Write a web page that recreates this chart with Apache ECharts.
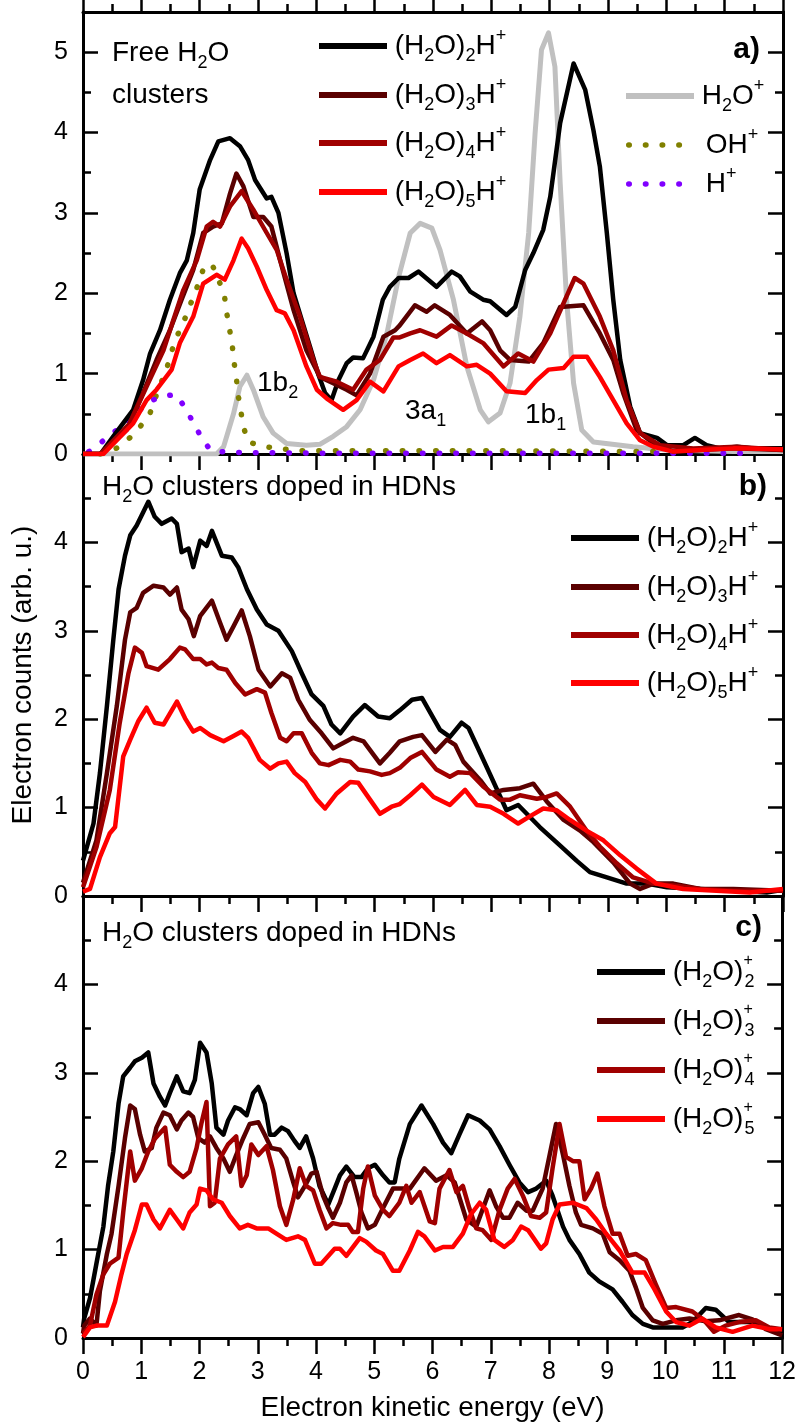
<!DOCTYPE html>
<html>
<head>
<meta charset="utf-8">
<script src="https://cdn.jsdelivr.net/npm/echarts@6/dist/echarts.min.js"></script>
<style>
  html, body { margin: 0; padding: 0; background: #fff; }
  #chart { width: 799px; height: 1425px; }
</style>
</head>
<body>
<div id="chart"></div>
<script>
// ---- data: [energy (eV), counts] ----
// panel a) free clusters
const aP2 = [[0,0],[0.3,0],[0.52,0.22],[0.86,0.55],[1.03,0.92],[1.15,1.25],[1.32,1.54],[1.49,1.92],[1.66,2.25],[1.78,2.41],[1.89,2.75],[2.0,3.29],[2.18,3.66],[2.32,3.89],[2.52,3.93],[2.69,3.83],[2.83,3.66],[2.95,3.41],[3.15,3.18],[3.23,3.2],[3.35,3.0],[3.49,2.5],[3.61,2.0],[3.75,1.67],[3.89,1.34],[4.03,1.0],[4.15,0.76],[4.26,0.67],[4.38,0.92],[4.52,1.13],[4.63,1.2],[4.8,1.19],[4.98,1.46],[5.14,1.92],[5.26,2.08],[5.41,2.19],[5.58,2.19],[5.75,2.27],[6.06,2.08],[6.32,2.27],[6.46,2.21],[6.64,2.02],[6.86,1.92],[6.98,1.9],[7.26,1.73],[7.41,1.83],[7.58,2.29],[7.72,2.5],[7.89,2.79],[8.01,3.2],[8.18,4.12],[8.41,4.86],[8.61,4.53],[8.75,4.03],[8.86,3.58],[8.98,2.75],[9.09,1.92],[9.21,1.17],[9.38,0.59],[9.55,0.26],[9.84,0.2],[10.01,0.11],[10.29,0.11],[10.49,0.2],[10.69,0.11],[10.92,0.07],[11.21,0.09],[11.49,0.07],[12,0.07]];
const aP3 = [[0,0],[0.3,0],[0.75,0.3],[1.03,0.76],[1.26,1.17],[1.49,1.54],[1.69,1.92],[1.89,2.29],[2.06,2.75],[2.23,2.83],[2.38,2.87],[2.52,3.24],[2.63,3.49],[2.75,3.33],[2.92,2.95],[3.09,2.95],[3.23,2.83],[3.38,2.41],[3.61,1.79],[3.83,1.29],[4.06,0.96],[4.29,0.88],[4.52,0.8],[4.69,0.73],[4.92,1.0],[5.15,1.46],[5.35,1.54],[5.43,1.6],[5.69,1.85],[5.89,1.77],[6.03,1.85],[6.29,1.73],[6.58,1.5],[6.84,1.65],[6.98,1.54],[7.15,1.29],[7.32,1.17],[7.64,1.15],[7.89,1.38],[8.18,1.83],[8.58,1.85],[8.86,1.5],[9.09,1.17],[9.26,0.76],[9.49,0.3],[9.78,0.13],[10.12,0.03],[10.58,0.05],[11.15,0.07],[12,0.05]];
const aP4 = [[0,0],[0.3,0],[0.8,0.38],[1.09,0.84],[1.38,1.29],[1.55,1.67],[1.72,2.04],[1.95,2.41],[2.12,2.83],[2.23,2.89],[2.35,2.83],[2.52,3.08],[2.72,3.27],[2.92,3.04],[3.15,2.75],[3.32,2.54],[3.49,2.17],[3.72,1.71],[3.95,1.17],[4.06,0.96],[4.35,0.9],[4.63,0.8],[4.86,1.05],[5.09,1.17],[5.32,1.45],[5.43,1.45],[5.61,1.5],[5.78,1.54],[6.06,1.46],[6.32,1.6],[6.58,1.5],[6.86,1.38],[7.21,1.09],[7.46,1.25],[7.72,1.15],[8.01,1.5],[8.24,1.88],[8.43,2.19],[8.58,2.12],[8.86,1.71],[9.09,1.29],[9.32,0.67],[9.55,0.26],[9.89,0.11],[10.46,0.07],[11.21,0.09],[12,0.05]];
const aP5 = [[0,0],[0.35,0],[0.86,0.38],[1.09,0.67],[1.26,0.8],[1.52,1.05],[1.66,1.38],[1.89,1.71],[2.06,2.12],[2.29,2.23],[2.43,2.17],[2.58,2.41],[2.72,2.68],[2.83,2.56],[2.98,2.33],[3.15,2.04],[3.32,1.79],[3.46,1.75],[3.61,1.54],[3.83,1.09],[4.01,0.8],[4.18,0.69],[4.46,0.55],[4.69,0.67],[4.92,0.9],[5.15,0.78],[5.41,1.09],[5.61,1.17],[5.83,1.25],[6.06,1.13],[6.29,1.23],[6.58,1.09],[6.75,1.11],[6.98,1.0],[7.26,0.78],[7.58,0.76],[7.78,0.92],[7.98,1.05],[8.24,1.07],[8.41,1.21],[8.64,1.21],[8.86,0.96],[9.09,0.67],[9.32,0.38],[9.55,0.17],[9.78,0.09],[10.12,0.03],[10.58,0.05],[11.15,0.07],[12,0.06]];
const aH2O = [[0,0],[2.29,0],[2.41,0.09],[2.58,0.5],[2.69,0.84],[2.81,0.98],[2.92,0.8],[3.09,0.46],[3.26,0.26],[3.49,0.13],[3.83,0.11],[4.06,0.12],[4.29,0.22],[4.52,0.34],[4.75,0.55],[4.98,0.92],[5.21,1.5],[5.41,2.2],[5.61,2.75],[5.78,2.87],[5.98,2.81],[6.12,2.54],[6.35,1.92],[6.58,1.09],[6.81,0.55],[6.95,0.4],[7.15,0.51],[7.32,0.88],[7.49,1.71],[7.64,2.75],[7.75,3.99],[7.86,5.03],[7.98,5.24],[8.09,4.82],[8.18,3.37],[8.29,1.92],[8.41,0.88],[8.55,0.3],[8.75,0.15],[9.43,0.09],[10,0.05],[11.15,0.03],[12,0.03]];
const aOH = [[0.3,0],[0.6,0.08],[0.8,0.2],[0.98,0.34],[1.15,0.51],[1.29,0.8],[1.43,1.05],[1.58,1.42],[1.72,1.63],[1.81,1.81],[1.92,2.0],[2.0,2.17],[2.09,2.36],[2.23,2.33],[2.35,2.12],[2.43,1.94],[2.47,1.73],[2.52,1.52],[2.56,1.34],[2.59,1.14],[2.63,0.94],[2.66,0.73],[2.75,0.34],[2.83,0.15],[3.12,0.09],[3.38,0.07],[3.66,0.04],[5,0.04],[7,0.04],[9.9,0.03]];
const aH = [[0.1,0.03],[0.23,0.09],[0.43,0.22],[0.66,0.34],[0.9,0.5],[1.15,0.66],[1.38,0.72],[1.59,0.74],[1.75,0.58],[1.89,0.39],[2.02,0.22],[2.18,0.05],[2.46,0.02],[4,0.01],[8,0.01],[11.5,0.01]];

// panel b) protonated clusters from HDNs
const bP2 = [[0,0.4],[0.18,0.82],[0.29,1.39],[0.41,2.15],[0.52,2.9],[0.61,3.47],[0.72,3.85],[0.81,4.08],[0.92,4.19],[1.12,4.46],[1.23,4.29],[1.35,4.21],[1.52,4.27],[1.61,4.21],[1.69,3.89],[1.81,3.93],[1.89,3.72],[2.01,4.02],[2.12,3.96],[2.21,4.13],[2.38,3.85],[2.55,3.83],[2.66,3.72],[2.81,3.47],[2.98,3.24],[3.15,3.07],[3.35,3.0],[3.58,2.77],[3.75,2.52],[3.92,2.28],[4.12,2.15],[4.26,1.94],[4.41,1.84],[4.63,2.03],[4.83,2.16],[5.06,2.03],[5.26,2.01],[5.43,2.1],[5.64,2.22],[5.81,2.24],[6.12,1.88],[6.29,1.8],[6.49,1.96],[6.61,1.9],[6.92,1.46],[7.26,0.97],[7.46,1.03],[7.83,0.78],[8.18,0.57],[8.46,0.4],[8.69,0.27],[8.98,0.21],[9.32,0.14],[9.66,0.14],[10.01,0.1],[10.58,0.08],[11.15,0.06],[11.72,0.04],[12,0.07]];
const bP3 = [[0,0.15],[0.23,0.63],[0.41,1.39],[0.58,2.15],[0.72,2.9],[0.81,3.21],[0.92,3.26],[1.03,3.43],[1.21,3.51],[1.38,3.49],[1.49,3.41],[1.61,3.49],[1.69,3.24],[1.81,3.13],[1.9,2.94],[2.01,3.17],[2.21,3.34],[2.35,3.09],[2.46,2.9],[2.58,3.05],[2.72,3.23],[2.86,2.94],[3.01,2.56],[3.21,2.37],[3.41,2.52],[3.55,2.47],[3.69,2.22],[3.89,1.99],[4.09,1.84],[4.29,1.67],[4.46,1.73],[4.63,1.79],[4.81,1.75],[5.09,1.5],[5.26,1.62],[5.43,1.75],[5.66,1.8],[5.81,1.82],[6.04,1.63],[6.24,1.77],[6.38,1.71],[6.52,1.52],[6.81,1.31],[6.98,1.16],[7.21,1.2],[7.49,1.22],[7.72,1.27],[7.95,1.07],[8.24,0.86],[8.52,0.74],[8.75,0.61],[9.09,0.38],[9.38,0.14],[9.55,0.08],[9.78,0.14],[10.12,0.14],[10.58,0.08],[11.15,0.08],[12,0.06]];
const bP4 = [[0,0.1],[0.23,0.55],[0.46,1.2],[0.63,1.96],[0.78,2.52],[0.89,2.81],[1.01,2.75],[1.09,2.6],[1.29,2.56],[1.49,2.68],[1.66,2.81],[1.75,2.79],[1.89,2.68],[2.01,2.68],[2.12,2.62],[2.21,2.64],[2.32,2.58],[2.46,2.56],[2.61,2.41],[2.78,2.28],[2.98,2.34],[3.12,2.3],[3.23,2.07],[3.38,1.79],[3.49,1.75],[3.61,1.84],[3.75,1.84],[3.92,1.62],[4.06,1.5],[4.21,1.48],[4.41,1.54],[4.58,1.52],[4.72,1.43],[4.92,1.41],[5.12,1.37],[5.26,1.39],[5.43,1.45],[5.61,1.56],[5.81,1.63],[6.06,1.43],[6.29,1.35],[6.43,1.4],[6.64,1.39],[6.86,1.24],[7.15,1.09],[7.32,1.09],[7.49,1.14],[7.78,1.1],[7.95,1.12],[8.12,1.16],[8.35,1.01],[8.63,0.74],[8.86,0.56],[9.15,0.37],[9.43,0.21],[9.78,0.14],[10.12,0.12],[10.58,0.08],[11.15,0.06],[12,0.06]];
const bP5 = [[0,0.05],[0.12,0.08],[0.29,0.44],[0.46,0.71],[0.55,0.78],[0.69,1.58],[0.81,1.77],[0.95,1.98],[1.09,2.13],[1.23,1.96],[1.38,1.94],[1.61,2.2],[1.75,2.01],[1.89,1.86],[2.01,1.9],[2.18,1.82],[2.41,1.75],[2.58,1.81],[2.72,1.86],[2.83,1.79],[3.03,1.54],[3.21,1.44],[3.35,1.5],[3.49,1.52],[3.63,1.39],[3.81,1.29],[4.01,1.09],[4.15,0.99],[4.35,1.16],[4.58,1.29],[4.72,1.28],[4.92,1.09],[5.09,0.93],[5.29,1.01],[5.43,1.04],[5.61,1.14],[5.81,1.26],[6.01,1.12],[6.29,1.03],[6.55,1.2],[6.75,1.03],[6.98,1.01],[7.21,0.93],[7.46,0.82],[7.66,0.9],[7.89,0.99],[8.12,0.97],[8.35,0.86],[8.63,0.74],[8.92,0.63],[9.21,0.46],[9.49,0.31],[9.83,0.14],[10.29,0.08],[10.86,0.06],[11.43,0.04],[12,0.08]];

// panel c) cationic clusters from HDNs
const cP2 = [[0,0.12],[0.02,0.22],[0.12,0.45],[0.23,0.84],[0.35,1.26],[0.43,1.72],[0.52,2.11],[0.61,2.65],[0.69,2.96],[0.81,3.06],[0.89,3.13],[1.01,3.17],[1.12,3.23],[1.21,2.88],[1.32,2.73],[1.41,2.63],[1.49,2.77],[1.61,2.96],[1.72,2.79],[1.83,2.77],[1.92,2.92],[2.01,3.34],[2.12,3.23],[2.21,2.88],[2.29,2.38],[2.41,2.3],[2.49,2.46],[2.61,2.61],[2.69,2.59],[2.81,2.52],[2.92,2.77],[3.01,2.84],[3.12,2.65],[3.21,2.3],[3.29,2.3],[3.41,2.38],[3.52,2.34],[3.63,2.23],[3.72,2.15],[3.83,2.28],[3.95,2.03],[4.06,1.72],[4.21,1.51],[4.32,1.69],[4.41,1.84],[4.52,1.94],[4.66,1.82],[4.78,1.82],[4.89,1.92],[5.01,1.96],[5.15,1.84],[5.26,1.76],[5.35,1.76],[5.43,2.03],[5.61,2.42],[5.81,2.63],[6.01,2.42],[6.18,2.21],[6.32,2.09],[6.46,2.3],[6.61,2.52],[6.81,2.46],[6.98,2.36],[7.15,2.17],[7.32,1.96],[7.49,1.76],[7.64,1.65],[7.78,1.69],[7.95,1.78],[8.06,1.61],[8.24,1.26],[8.35,1.11],[8.52,0.95],[8.69,0.74],[8.86,0.64],[9.09,0.55],[9.26,0.41],[9.43,0.26],[9.61,0.16],[9.78,0.12],[10.01,0.12],[10.29,0.12],[10.46,0.18],[10.69,0.34],[10.86,0.32],[11.09,0.18],[11.32,0.18],[11.55,0.18],[11.78,0.1],[12,0.07]];
const cP3 = [[0,0.05],[0.02,0.14],[0.12,0.22],[0.23,0.14],[0.29,0.53],[0.41,0.95],[0.49,1.18],[0.61,1.72],[0.72,2.26],[0.81,2.63],[0.89,2.59],[0.98,2.3],[1.06,2.11],[1.18,2.15],[1.26,2.38],[1.38,2.55],[1.49,2.52],[1.61,2.36],[1.69,2.46],[1.81,2.55],[1.89,2.5],[1.98,2.26],[2.09,2.21],[2.18,2.28],[2.29,2.15],[2.41,2.03],[2.52,1.88],[2.63,2.07],[2.75,2.26],[2.86,2.42],[3.01,2.44],[3.12,2.3],[3.23,2.15],[3.38,2.13],[3.49,2.03],[3.61,1.76],[3.69,1.59],[3.81,1.72],[3.92,1.86],[4.01,1.88],[4.12,1.61],[4.21,1.47],[4.29,1.36],[4.41,1.53],[4.52,1.76],[4.61,1.84],[4.69,1.65],[4.78,1.42],[4.89,1.24],[5.01,1.28],[5.15,1.47],[5.32,1.69],[5.61,1.69],[5.86,1.92],[6.06,1.78],[6.24,1.84],[6.38,1.76],[6.58,1.34],[6.75,1.26],[6.98,1.67],[7.09,1.49],[7.21,1.36],[7.32,1.36],[7.46,1.53],[7.61,1.44],[7.72,1.44],[7.89,1.69],[8.01,2.07],[8.12,2.42],[8.24,2.07],[8.35,1.72],[8.46,1.42],[8.55,1.28],[8.75,1.24],[8.92,1.18],[9.04,0.97],[9.21,0.88],[9.38,0.76],[9.49,0.57],[9.61,0.34],[9.78,0.2],[9.95,0.16],[10.18,0.2],[10.41,0.22],[10.69,0.19],[10.92,0.2],[11.26,0.26],[11.49,0.21],[11.72,0.1],[12,0.03]];
const cP4 = [[0,0.05],[0.12,0.14],[0.23,0.49],[0.35,0.72],[0.46,0.84],[0.61,0.91],[0.69,1.42],[0.81,2.11],[0.89,1.78],[1.01,1.92],[1.12,2.11],[1.23,2.25],[1.41,2.38],[1.49,1.96],[1.61,1.88],[1.72,1.82],[1.83,1.88],[1.95,2.15],[2.03,2.42],[2.12,2.67],[2.18,1.49],[2.26,1.53],[2.35,2.03],[2.49,2.19],[2.63,2.28],[2.72,1.72],[2.81,1.84],[2.89,2.19],[3.01,2.07],[3.15,2.17],[3.26,1.9],[3.38,1.49],[3.49,1.28],[3.61,1.57],[3.72,1.92],[3.83,1.72],[3.95,1.67],[4.06,1.45],[4.18,1.24],[4.29,1.3],[4.43,1.28],[4.55,1.28],[4.63,1.2],[4.72,1.2],[4.81,1.69],[4.89,1.94],[5.01,1.61],[5.15,1.45],[5.26,1.38],[5.43,1.53],[5.55,1.72],[5.64,1.53],[5.78,1.65],[5.95,1.32],[6.04,1.3],[6.12,1.69],[6.29,1.9],[6.41,1.65],[6.52,1.72],[6.63,1.47],[6.75,1.24],[6.86,1.22],[7.01,1.11],[7.15,1.45],[7.29,1.69],[7.41,1.8],[7.55,1.61],[7.69,1.38],[7.84,1.36],[7.95,1.42],[8.06,1.92],[8.18,2.42],[8.29,2.05],[8.41,2.0],[8.52,2.0],[8.61,1.57],[8.72,1.69],[8.83,1.86],[8.95,1.49],[9.09,1.18],[9.21,1.18],[9.35,0.93],[9.49,0.95],[9.66,0.88],[9.83,0.61],[10.01,0.34],[10.18,0.35],[10.46,0.3],[10.66,0.2],[10.83,0.07],[11.03,0.14],[11.26,0.18],[11.55,0.2],[11.78,0.12],[12,0.1]];
const cP5 = [[0,0.01],[0.12,0.12],[0.23,0.14],[0.41,0.14],[0.55,0.41],[0.66,0.72],[0.75,0.95],[0.89,1.22],[1.01,1.51],[1.09,1.51],[1.21,1.34],[1.32,1.24],[1.49,1.45],[1.61,1.34],[1.72,1.24],[1.83,1.42],[1.95,1.51],[2.01,1.69],[2.12,1.67],[2.23,1.57],[2.38,1.53],[2.52,1.38],[2.69,1.24],[2.83,1.28],[2.98,1.24],[3.18,1.24],[3.32,1.18],[3.49,1.11],[3.69,1.15],[3.81,1.11],[3.98,0.84],[4.09,0.84],[4.32,1.01],[4.41,1.01],[4.52,0.93],[4.75,1.13],[4.86,1.09],[5.03,0.99],[5.15,0.95],[5.32,0.76],[5.43,0.76],[5.61,0.99],[5.75,1.2],[5.86,1.15],[6.04,0.99],[6.18,1.03],[6.35,1.03],[6.52,1.18],[6.66,1.4],[6.81,1.53],[6.92,1.45],[7.06,1.11],[7.23,1.03],[7.38,1.11],[7.52,1.26],[7.64,1.22],[7.86,1.01],[7.95,1.07],[8.06,1.34],[8.18,1.51],[8.41,1.53],[8.64,1.47],[8.81,1.34],[8.98,1.18],[9.21,0.99],[9.43,0.74],[9.64,0.74],[9.81,0.55],[10.01,0.3],[10.18,0.18],[10.41,0.14],[10.63,0.22],[10.86,0.12],[11.15,0.07],[11.49,0.14],[11.78,0.1],[12,0.1]];

const colors = { p2: '#000000', p3: '#5a0000', p4: '#a00000', p5: '#ff0000', h2o: '#c0c0c0', oh: '#808000', h: '#8000ff' };

const FONT = "Arial, 'Liberation Sans', sans-serif";
const tok = (o) => Object.assign({ fontFamily: FONT, color: '#000', fill: '#000' }, o);
const rich = {
  n: tok({ fontSize: 28, lineHeight: 38 }),
  b: tok({ fontSize: 18, lineHeight: 14, verticalAlign: 'bottom' }),
  p: tok({ fontSize: 18, lineHeight: 20, verticalAlign: 'top' }),
  q: tok({ fontSize: 16, lineHeight: 14, verticalAlign: 'top', width: 1 }),
  g: tok({ fontSize: 10, lineHeight: 10 }),
  k: tok({ fontSize: 30, lineHeight: 38, fontWeight: 'bold' })
};

const protonated = (k) => '{g| }{n|(H}{b|2}{n|O)}{b|' + k + '}{n|H}{p|+}';
const cation = (k) => '{g| }{n|(H}{b|2}{n|O)}{q|+}{b|' + k + '}';
const labels = {
  a2: protonated(2), a3: protonated(3), a4: protonated(4), a5: protonated(5),
  aH2O: '{g| }{n|H}{b|2}{n|O}{p|+}', aOH: '{n|OH}{p|+}', aH: '{n|H}{p|+}',
  b2: protonated(2), b3: protonated(3), b4: protonated(4), b5: protonated(5),
  c2: cation(2), c3: cation(3), c4: cation(4), c5: cation(5)
};

function line(name, data, color, xi, yi, dotted, width) {
  return {
    type: 'line', name: name, data: data, xAxisIndex: xi, yAxisIndex: yi,
    symbol: 'none', showSymbol: false, smooth: false,
    lineStyle: dotted
      ? { color: color, width: 5.5, type: [0.5, 16.2], cap: 'round' }
      : { color: color, width: width || 4.5, join: 'round' },
    itemStyle: { color: color }
  };
}

function legendItem(name, x, y, dotted) {
  return {
    data: [name], left: x, top: y - 19, padding: 0, itemGap: 0,
    itemWidth: dotted ? 56 : 68, itemHeight: 14, selectedMode: false,
    itemStyle: { opacity: 0 },
    lineStyle: dotted ? { width: 5.5, cap: 'round' } : { width: 6, cap: 'butt' },
    formatter: (n) => labels[n],
    textStyle: { fontFamily: FONT, fontSize: 28, color: '#000', rich: rich, padding: dotted ? [0, 0, 0, 16] : 0 }
  };
}

function txt(x, y, text, align) {
  return {
    type: 'text', x: x, y: y, z: 100,
    style: { text: text, rich: rich, fill: '#000', font: '28px ' + FONT, align: align || 'left', verticalAlign: 'middle' }
  };
}

const axLine = { onZero: false, lineStyle: { color: '#000', width: 3 } };
const tickStyle = { color: '#000', width: 2.5 };
const labelStyle = { fontFamily: FONT, fontSize: 25, color: '#000' };

function xAx(g, pos, ticks, extra) {
  return Object.assign({
    gridIndex: g, type: 'value', min: 0, max: 12, interval: 1, position: pos,
    axisLine: axLine,
    axisTick: { show: ticks, inside: false, length: 16, lineStyle: tickStyle },
    minorTick: { show: ticks, splitNumber: 2, length: 8, lineStyle: tickStyle },
    axisLabel: { show: false },
    splitLine: { show: false }, minorSplitLine: { show: false }
  }, extra || {});
}

function yAx(g, pos, max, interval, len, minor, labels, extra) {
  return Object.assign({
    gridIndex: g, type: 'value', min: 0, max: max, interval: interval, position: pos,
    axisLine: axLine,
    axisTick: { show: true, inside: true, length: len, lineStyle: tickStyle },
    minorTick: { show: minor, splitNumber: 2, length: 8, lineStyle: tickStyle },
    axisLabel: labels
      ? Object.assign({ show: true, margin: 15, formatter: (v) => (Number.isInteger(v) && v < 5 || (max > 5 && v === 5)) ? String(v) : '' }, labelStyle)
      : { show: false },
    splitLine: { show: false }, minorSplitLine: { show: false }
  }, extra || {});
}

const chart = echarts.init(document.getElementById('chart'), null, { renderer: 'canvas' });

chart.setOption({
  animation: false,
  backgroundColor: '#ffffff',
  grid: [
    { left: 83, right: 16, top: 12, height: 442 },
    { left: 83, right: 16, top: 454, height: 442 },
    { left: 83, right: 16, top: 896, height: 442 }
  ],
  xAxis: [
    xAx(0, 'bottom', true),
    xAx(0, 'top', true),
    xAx(1, 'bottom', true),
    xAx(1, 'top', false),
    xAx(2, 'bottom', true, {
      axisLabel: Object.assign({ show: true, margin: 22 }, labelStyle),
      name: 'Electron kinetic energy (eV)', nameLocation: 'middle', nameGap: 56,
      nameTextStyle: { fontFamily: FONT, fontSize: 28, color: '#000' }
    }),
    xAx(2, 'top', false)
  ],
  yAxis: [
    yAx(0, 'left', 5.5, 1, 15, false, true),
    yAx(0, 'left', 5.5, 0.5, 8, false, false),
    yAx(0, 'right', 5.5, 1, 15, false, false),
    yAx(0, 'right', 5.5, 0.5, 8, false, false),
    yAx(1, 'left', 5, 1, 15, true, true, {
      name: 'Electron counts (arb. u.)', nameLocation: 'middle', nameGap: 46,
      nameTextStyle: { fontFamily: FONT, fontSize: 28, color: '#000' }
    }),
    yAx(1, 'right', 5, 1, 15, true, false),
    yAx(2, 'left', 5, 1, 15, true, true),
    yAx(2, 'right', 5, 1, 15, true, false)
  ],
  legend: [
    legendItem('a2', 316, 46), legendItem('a3', 316, 95), legendItem('a4', 316, 143), legendItem('a5', 316, 192),
    legendItem('aH2O', 623, 96), legendItem('aOH', 626, 145, true), legendItem('aH', 626, 184, true),
    legendItem('b2', 568, 538), legendItem('b3', 568, 587), legendItem('b4', 568, 635), legendItem('b5', 568, 683),
    legendItem('c2', 594, 972), legendItem('c3', 594, 1021), legendItem('c4', 594, 1070), legendItem('c5', 594, 1119)
  ],
  graphic: [
    txt(112, 53, '{n|Free H}{b|2}{n|O}'),
    txt(112, 95, '{n|clusters}'),
    txt(257, 383, '{n|1b}{b|2}'),
    txt(405, 411, '{n|3a}{b|1}'),
    txt(525, 415, '{n|1b}{b|1}'),
    txt(760, 50, '{k|a)}', 'right'),
    txt(102, 487, '{n|H}{b|2}{n|O clusters doped in HDNs}'),
    txt(767, 487, '{k|b)}', 'right'),
    txt(102, 933, '{n|H}{b|2}{n|O clusters doped in HDNs}'),
    txt(762, 928, '{k|c)}', 'right')
  ],
  series: [
    line('aH2O', aH2O, colors.h2o, 0, 0, false, 5),
    line('aOH', aOH, colors.oh, 0, 0, true),
    line('aH', aH, colors.h, 0, 0, true),
    line('a2', aP2, colors.p2, 0, 0),
    line('a3', aP3, colors.p3, 0, 0),
    line('a4', aP4, colors.p4, 0, 0),
    line('a5', aP5, colors.p5, 0, 0),
    line('b2', bP2, colors.p2, 2, 4),
    line('b3', bP3, colors.p3, 2, 4),
    line('b4', bP4, colors.p4, 2, 4),
    line('b5', bP5, colors.p5, 2, 4),
    line('c2', cP2, colors.p2, 4, 6),
    line('c3', cP3, colors.p3, 4, 6),
    line('c4', cP4, colors.p4, 4, 6),
    line('c5', cP5, colors.p5, 4, 6)
  ]
});
</script>
</body>
</html>
